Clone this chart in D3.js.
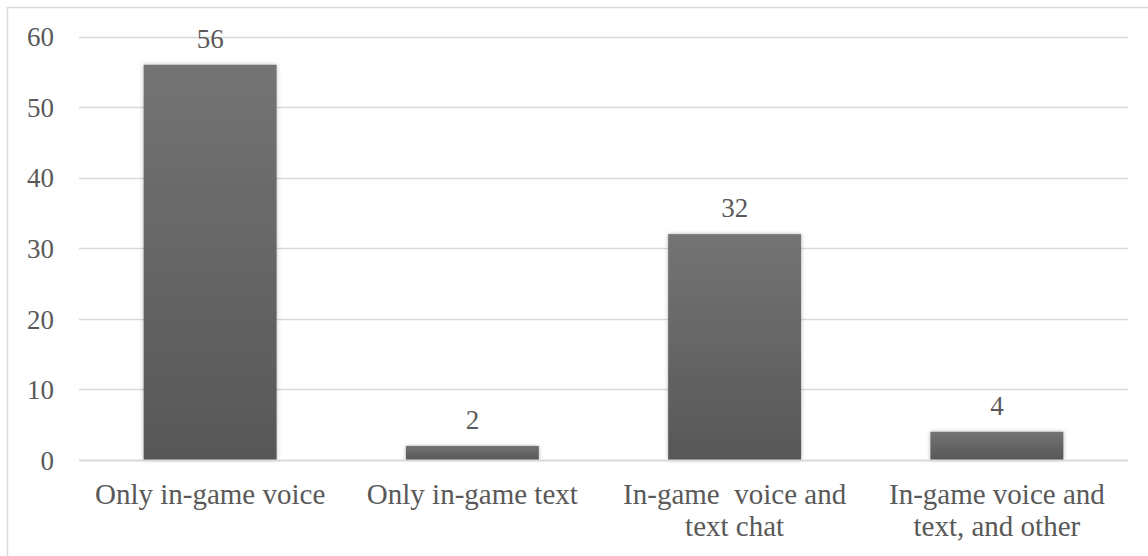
<!DOCTYPE html>
<html>
<head>
<meta charset="utf-8">
<script src="https://cdn.jsdelivr.net/npm/d3@7"></script>
<style>
  html, body { margin: 0; padding: 0; background: #fff; }
  svg { display: block; }
  text { font-family: "Liberation Serif", "Times New Roman", serif; fill: #595959; }
</style>
</head>
<body>
<svg id="chart" width="1148" height="556"></svg>
<script>
// Chat channels used while playing
const categories = [
  "Only in-game voice",
  "Only in-game text",
  "In-game  voice and text chat",
  "In-game voice and text, and other"
];
const categoryLines = [
  ["Only in-game voice"],
  ["Only in-game text"],
  ["In-game  voice and", "text chat"],
  ["In-game voice and", "text, and other"]
];
const values = [56, 2, 32, 4];
const yTicks = [0, 10, 20, 30, 40, 50, 60];

const plot = { left: 79, right: 1128, top: 36.5, bottom: 460 };

const svg = d3.select("#chart");

// gradient + soft shadow for bars
const defs = svg.append("defs");
const grad = defs.append("linearGradient")
  .attr("id", "barGrad").attr("x1", 0).attr("y1", 0).attr("x2", 0).attr("y2", 1);
grad.append("stop").attr("offset", "0%").attr("stop-color", "#747474");
grad.append("stop").attr("offset", "100%").attr("stop-color", "#575757");

const shadow = defs.append("filter").attr("id", "barShadow")
  .attr("x", "-10%").attr("y", "-10%").attr("width", "120%").attr("height", "120%");
shadow.append("feDropShadow")
  .attr("dx", 0).attr("dy", 0).attr("stdDeviation", 2.2)
  .attr("flood-color", "#000").attr("flood-opacity", 0.28);

// outer frame
svg.append("rect")
  .attr("x", 7.5).attr("y", 7.5).attr("width", 1300).attr("height", 700)
  .attr("fill", "none").attr("stroke", "#d9d9d9").attr("stroke-width", 1.5);

const x = d3.scaleBand()
  .domain(categories)
  .range([plot.left, plot.right])
  .paddingInner(0.493)
  .paddingOuter(0.2465);

const y = d3.scaleLinear()
  .domain([0, 60])
  .range([plot.bottom, plot.top]);

// gridlines
svg.append("g")
  .selectAll("line")
  .data(yTicks.filter(d => d !== 0))
  .join("line")
  .attr("x1", plot.left).attr("x2", plot.right)
  .attr("y1", d => Math.round(y(d)) + 0.5).attr("y2", d => Math.round(y(d)) + 0.5)
  .attr("stroke", "#d9d9d9").attr("stroke-width", 1.3);

// y axis tick labels
const yAxis = d3.axisLeft(y).tickValues(yTicks).tickSize(0).tickPadding(25);
const gy = svg.append("g")
  .attr("transform", `translate(${plot.left},0)`)
  .call(yAxis);
gy.attr("font-family", null);
gy.select(".domain").remove();
gy.selectAll("text")
  .attr("font-size", 27)
  .attr("fill", "#595959")
  .attr("dy", "0.34em");

// bars
svg.append("g")
  .selectAll("rect")
  .data(values)
  .join("rect")
  .attr("x", (d, i) => x(categories[i]))
  .attr("width", x.bandwidth())
  .attr("y", d => y(d))
  .attr("height", d => y(0) - y(d))
  .attr("fill", "url(#barGrad)")
  .attr("filter", "url(#barShadow)");

// baseline
svg.append("line")
  .attr("x1", plot.left).attr("x2", plot.right)
  .attr("y1", y(0) + 0.5).attr("y2", y(0) + 0.5)
  .attr("stroke", "#d9d9d9").attr("stroke-width", 2);

// value labels
svg.append("g")
  .selectAll("text")
  .data(values)
  .join("text")
  .attr("x", (d, i) => x(categories[i]) + x.bandwidth() / 2)
  .attr("y", d => y(d) - 17)
  .attr("text-anchor", "middle")
  .attr("font-size", 27)
  .text(d => d);

// category labels
const xl = svg.append("g")
  .selectAll("text")
  .data(categories)
  .join("text")
  .attr("x", d => x(d) + x.bandwidth() / 2)
  .attr("y", 504)
  .attr("text-anchor", "middle")
  .attr("font-size", 29)
  .style("white-space", "pre");
xl.each(function(d, i) {
  const t = d3.select(this);
  categoryLines[i].forEach((line, k) => {
    t.append("tspan")
      .attr("x", x(d) + x.bandwidth() / 2)
      .attr("dy", k === 0 ? 0 : 32)
      .text(line);
  });
});
</script>
</body>
</html>
